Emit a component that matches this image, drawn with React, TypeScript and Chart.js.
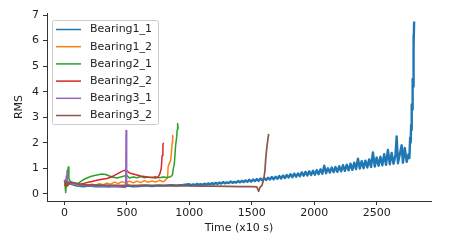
import React, { useEffect, useRef } from "react";
import { Chart, registerables } from "chart.js";

Chart.register(...registerables);

const seriesNames = ["Bearing1_1", "Bearing1_2", "Bearing2_1", "Bearing2_2", "Bearing3_1", "Bearing3_2"];
const seriesColors = ["#1f77b4", "#ff7f0e", "#2ca02c", "#d62728", "#9467bd", "#8c564b"];
const seriesWidths = [2.4, 1.5, 1.5, 1.5, 1.5, 1.7];

const bearing1_1: [number, number][] = [
  [0, 0.45], [10, 0.5], [20, 0.4], [40, 0.42], [60, 0.38], [80, 0.35], [100, 0.32], [150, 0.3], [200, 0.32],
  [250, 0.3], [300, 0.31], [350, 0.29], [400, 0.31], [450, 0.3], [500, 0.32], [550, 0.3], [600, 0.31],
  [650, 0.33], [700, 0.31], [750, 0.33], [800, 0.32], [850, 0.34], [900, 0.33], [950, 0.35],
  [1000, 0.38], [1015, 0.33], [1030, 0.37], [1045, 0.34], [1060, 0.39], [1075, 0.35], [1090, 0.38],
  [1105, 0.35], [1120, 0.4], [1135, 0.36], [1150, 0.41], [1165, 0.37], [1180, 0.42], [1195, 0.38],
  [1210, 0.43], [1225, 0.39], [1240, 0.44], [1255, 0.4], [1270, 0.46], [1285, 0.41], [1300, 0.45],
  [1315, 0.42], [1330, 0.48], [1345, 0.43], [1360, 0.47], [1375, 0.44], [1390, 0.5], [1405, 0.45],
  [1420, 0.51], [1435, 0.46], [1450, 0.53], [1465, 0.47], [1480, 0.55], [1495, 0.48], [1510, 0.56],
  [1525, 0.5], [1540, 0.58], [1555, 0.51], [1570, 0.6], [1585, 0.53], [1600, 0.62], [1615, 0.54],
  [1630, 0.63], [1645, 0.56], [1660, 0.66], [1675, 0.57], [1690, 0.67], [1705, 0.59], [1720, 0.7],
  [1735, 0.6], [1750, 0.72], [1765, 0.62], [1780, 0.74], [1795, 0.64], [1810, 0.77], [1825, 0.65],
  [1840, 0.79], [1855, 0.67], [1870, 0.8], [1885, 0.69], [1900, 0.84], [1915, 0.71], [1930, 0.86],
  [1945, 0.72], [1960, 0.88], [1975, 0.74], [1990, 0.9], [2005, 0.75], [2020, 0.93], [2035, 0.77],
  [2050, 0.96], [2065, 0.79], [2080, 1.1], [2095, 0.81], [2110, 1.0], [2125, 0.83], [2140, 1.03],
  [2155, 0.85], [2170, 1.05], [2185, 0.86], [2200, 1.08], [2215, 0.88], [2230, 1.12], [2245, 0.9],
  [2260, 1.14], [2275, 0.92], [2290, 1.18], [2305, 0.94], [2320, 1.22], [2335, 0.97], [2350, 1.38],
  [2365, 0.99], [2380, 1.28], [2395, 1.0], [2410, 1.3], [2425, 1.03], [2440, 1.35], [2455, 1.05],
  [2470, 1.62], [2485, 1.07], [2500, 1.42], [2515, 1.1], [2530, 1.45], [2545, 1.12], [2560, 1.55],
  [2575, 1.14], [2590, 1.72], [2605, 1.16], [2620, 1.6], [2635, 1.18], [2650, 1.5], [2660, 2.25],
  [2670, 1.2], [2685, 1.55], [2700, 1.9], [2710, 1.22], [2725, 1.8], [2740, 1.25], [2755, 1.55],
  [2762, 1.4], [2768, 2.2], [2772, 2.0], [2776, 2.7], [2779, 2.5], [2782, 3.5], [2785, 3.3],
  [2788, 4.5], [2791, 4.2], [2794, 6.2], [2797, 5.8], [2800, 6.75]
];

const bearing1_2: [number, number][] = [
  [0, 0.45], [10, 0.52], [20, 0.42], [40, 0.46], [60, 0.4], [80, 0.38], [100, 0.35], [130, 0.33],
  [160, 0.39], [190, 0.35], [220, 0.38], [250, 0.35], [280, 0.4], [310, 0.36], [340, 0.42], [370, 0.38],
  [400, 0.46], [430, 0.4], [460, 0.48], [490, 0.42], [520, 0.5], [550, 0.43], [580, 0.5], [610, 0.44],
  [640, 0.52], [670, 0.45], [700, 0.5], [730, 0.46], [760, 0.53], [790, 0.47], [810, 0.55], [825, 0.62],
  [830, 1.05], [840, 1.2], [850, 1.3], [856, 1.6], [862, 2.0], [866, 2.28], [870, 2.2]
];

const bearing2_1: [number, number][] = [
  [0, 0.55], [5, 0.3], [10, 0.05], [15, 0.4], [25, 0.8], [30, 1.05], [35, 0.6], [45, 0.5], [60, 0.45],
  [80, 0.4], [100, 0.38], [120, 0.45], [150, 0.55], [180, 0.62], [210, 0.68], [240, 0.72], [270, 0.75],
  [300, 0.78], [330, 0.76], [360, 0.7], [390, 0.65], [420, 0.62], [450, 0.66], [480, 0.7], [500, 0.72],
  [520, 0.62], [550, 0.66], [580, 0.63], [610, 0.68], [640, 0.63], [670, 0.66], [700, 0.64], [730, 0.67],
  [760, 0.63], [790, 0.66], [820, 0.64], [850, 0.67], [865, 0.75], [872, 1.0], [880, 1.2], [890, 1.9],
  [898, 2.2], [902, 2.5], [906, 2.75], [910, 2.55]
];

const bearing2_2: [number, number][] = [
  [0, 0.32], [10, 0.38], [20, 0.3], [40, 0.4], [70, 0.42], [100, 0.4], [130, 0.38], [160, 0.42],
  [190, 0.45], [220, 0.48], [250, 0.52], [280, 0.55], [310, 0.58], [340, 0.6], [370, 0.65], [400, 0.72],
  [430, 0.8], [460, 0.88], [480, 0.92], [500, 0.9], [520, 0.82], [550, 0.78], [580, 0.74], [610, 0.7],
  [640, 0.68], [670, 0.65], [700, 0.64], [730, 0.62], [750, 0.65], [765, 0.8], [775, 1.0], [782, 1.5],
  [788, 1.9], [793, 2.0]
];

const bearing3_1: [number, number][] = [
  [0, 0.45], [10, 0.5], [15, 0.7], [20, 0.9], [25, 0.5], [35, 0.45], [50, 0.42], [80, 0.4], [110, 0.35],
  [150, 0.33], [200, 0.32], [250, 0.33], [300, 0.31], [350, 0.3], [400, 0.3], [440, 0.28], [470, 0.26],
  [490, 0.25], [493, 2.48], [498, 0.4], [510, 0.35], [515, 0.33]
];

const bearing3_2: [number, number][] = [
  [0, 0.4], [10, 0.45], [30, 0.42], [60, 0.45], [90, 0.42], [120, 0.38], [150, 0.36], [200, 0.35],
  [300, 0.34], [400, 0.33], [500, 0.32], [600, 0.33], [700, 0.32], [800, 0.32], [900, 0.31], [1000, 0.31],
  [1100, 0.3], [1200, 0.3], [1300, 0.29], [1400, 0.28], [1500, 0.28], [1540, 0.27], [1555, 0.1],
  [1565, 0.25], [1580, 0.32], [1595, 0.55], [1605, 0.9], [1612, 1.4], [1620, 1.8], [1628, 2.1], [1635, 2.35]
];

const allSeries = [bearing1_1, bearing1_2, bearing2_1, bearing2_2, bearing3_1, bearing3_2];

const xTicks = [0, 500, 1000, 1500, 2000, 2500];
const yTicks = [0, 1, 2, 3, 4, 5, 6, 7];

const FONT = "'DejaVu Sans', sans-serif";
const FS = 11;

const legendPlugin = {
  id: "innerLegend",
  afterDatasetsDraw(chart: any) {
    const ctx = chart.ctx;
    const x0 = 52.5, y0 = 20.5, w = 106, h = 104;
    ctx.save();
    ctx.beginPath();
    const r = 2;
    ctx.moveTo(x0 + r, y0);
    ctx.lineTo(x0 + w - r, y0);
    ctx.quadraticCurveTo(x0 + w, y0, x0 + w, y0 + r);
    ctx.lineTo(x0 + w, y0 + h - r);
    ctx.quadraticCurveTo(x0 + w, y0 + h, x0 + w - r, y0 + h);
    ctx.lineTo(x0 + r, y0 + h);
    ctx.quadraticCurveTo(x0, y0 + h, x0, y0 + h - r);
    ctx.lineTo(x0, y0 + r);
    ctx.quadraticCurveTo(x0, y0, x0 + r, y0);
    ctx.closePath();
    ctx.fillStyle = "rgba(255,255,255,0.8)";
    ctx.fill();
    ctx.strokeStyle = "#cccccc";
    ctx.lineWidth = 1;
    ctx.stroke();
    ctx.font = FS + "px " + FONT;
    ctx.textBaseline = "middle";
    ctx.textAlign = "left";
    chart.data.datasets.forEach((ds: any, i: number) => {
      const yy = 29.5 + i * 17.2;
      ctx.strokeStyle = ds.borderColor;
      ctx.lineWidth = 1.5;
      ctx.beginPath();
      ctx.moveTo(56, yy);
      ctx.lineTo(81, yy);
      ctx.stroke();
      ctx.fillStyle = "#222";
      ctx.fillText(ds.label, 90, yy);
    });
    ctx.restore();
  }
};

export default function App() {
  const ref = useRef<HTMLCanvasElement>(null);
  useEffect(() => {
    if (!ref.current) return;
    const chart = new Chart(ref.current, {
      type: "line",
      data: {
        datasets: allSeries.map((s, i) => ({
          label: seriesNames[i],
          data: s.map(([x, y]) => ({ x, y })),
          borderColor: seriesColors[i],
          backgroundColor: seriesColors[i],
          borderWidth: seriesWidths[i],
          borderJoinStyle: "round" as const,
          pointRadius: 0,
          tension: 0,
          fill: false,
          order: allSeries.length - 1 - i
        }))
      },
      options: {
        animation: false,
        responsive: false,
        maintainAspectRatio: false,
        layout: { padding: { top: 13, right: 24, left: 0, bottom: 0 } },
        plugins: {
          legend: { display: false },
          tooltip: { enabled: false }
        },
        scales: {
          x: {
            type: "linear",
            min: -140,
            max: 2935,
            afterFit: (s: any) => { s.height = 48; },
            afterBuildTicks: (s: any) => { s.ticks = xTicks.map((v) => ({ value: v })); },
            grid: { drawOnChartArea: false, drawTicks: true, tickLength: 4, color: "#333", lineWidth: 1 },
            border: { display: true, color: "#333", width: 1 },
            ticks: { font: { family: FONT, size: FS }, color: "#222", padding: 2, maxRotation: 0, callback: (v: any) => String(v) },
            title: { display: true, text: "Time (x10 s)", font: { family: FONT, size: FS }, color: "#222", padding: { top: 0, bottom: 14 } }
          },
          y: {
            type: "linear",
            min: -0.28,
            max: 7.08,
            afterFit: (s: any) => { s.width = 47; },
            afterBuildTicks: (s: any) => { s.ticks = yTicks.map((v) => ({ value: v })); },
            grid: { drawOnChartArea: false, drawTicks: true, tickLength: 4, color: "#333", lineWidth: 1 },
            border: { display: true, color: "#333", width: 1 },
            ticks: { font: { family: FONT, size: FS }, color: "#222", padding: 4, callback: (v: any) => String(v) },
            title: { display: true, text: "RMS", font: { family: FONT, size: FS }, color: "#222", padding: { top: 13, bottom: 0 } }
          }
        }
      },
      plugins: [legendPlugin]
    });
    return () => chart.destroy();
  }, []);
  return (
    <div style={{ position: "fixed", left: 0, top: 0, width: 455, height: 249, background: "#fff" }}>
      <canvas ref={ref} width={455} height={249} style={{ width: 455, height: 249, display: "block" }} />
    </div>
  );
}
